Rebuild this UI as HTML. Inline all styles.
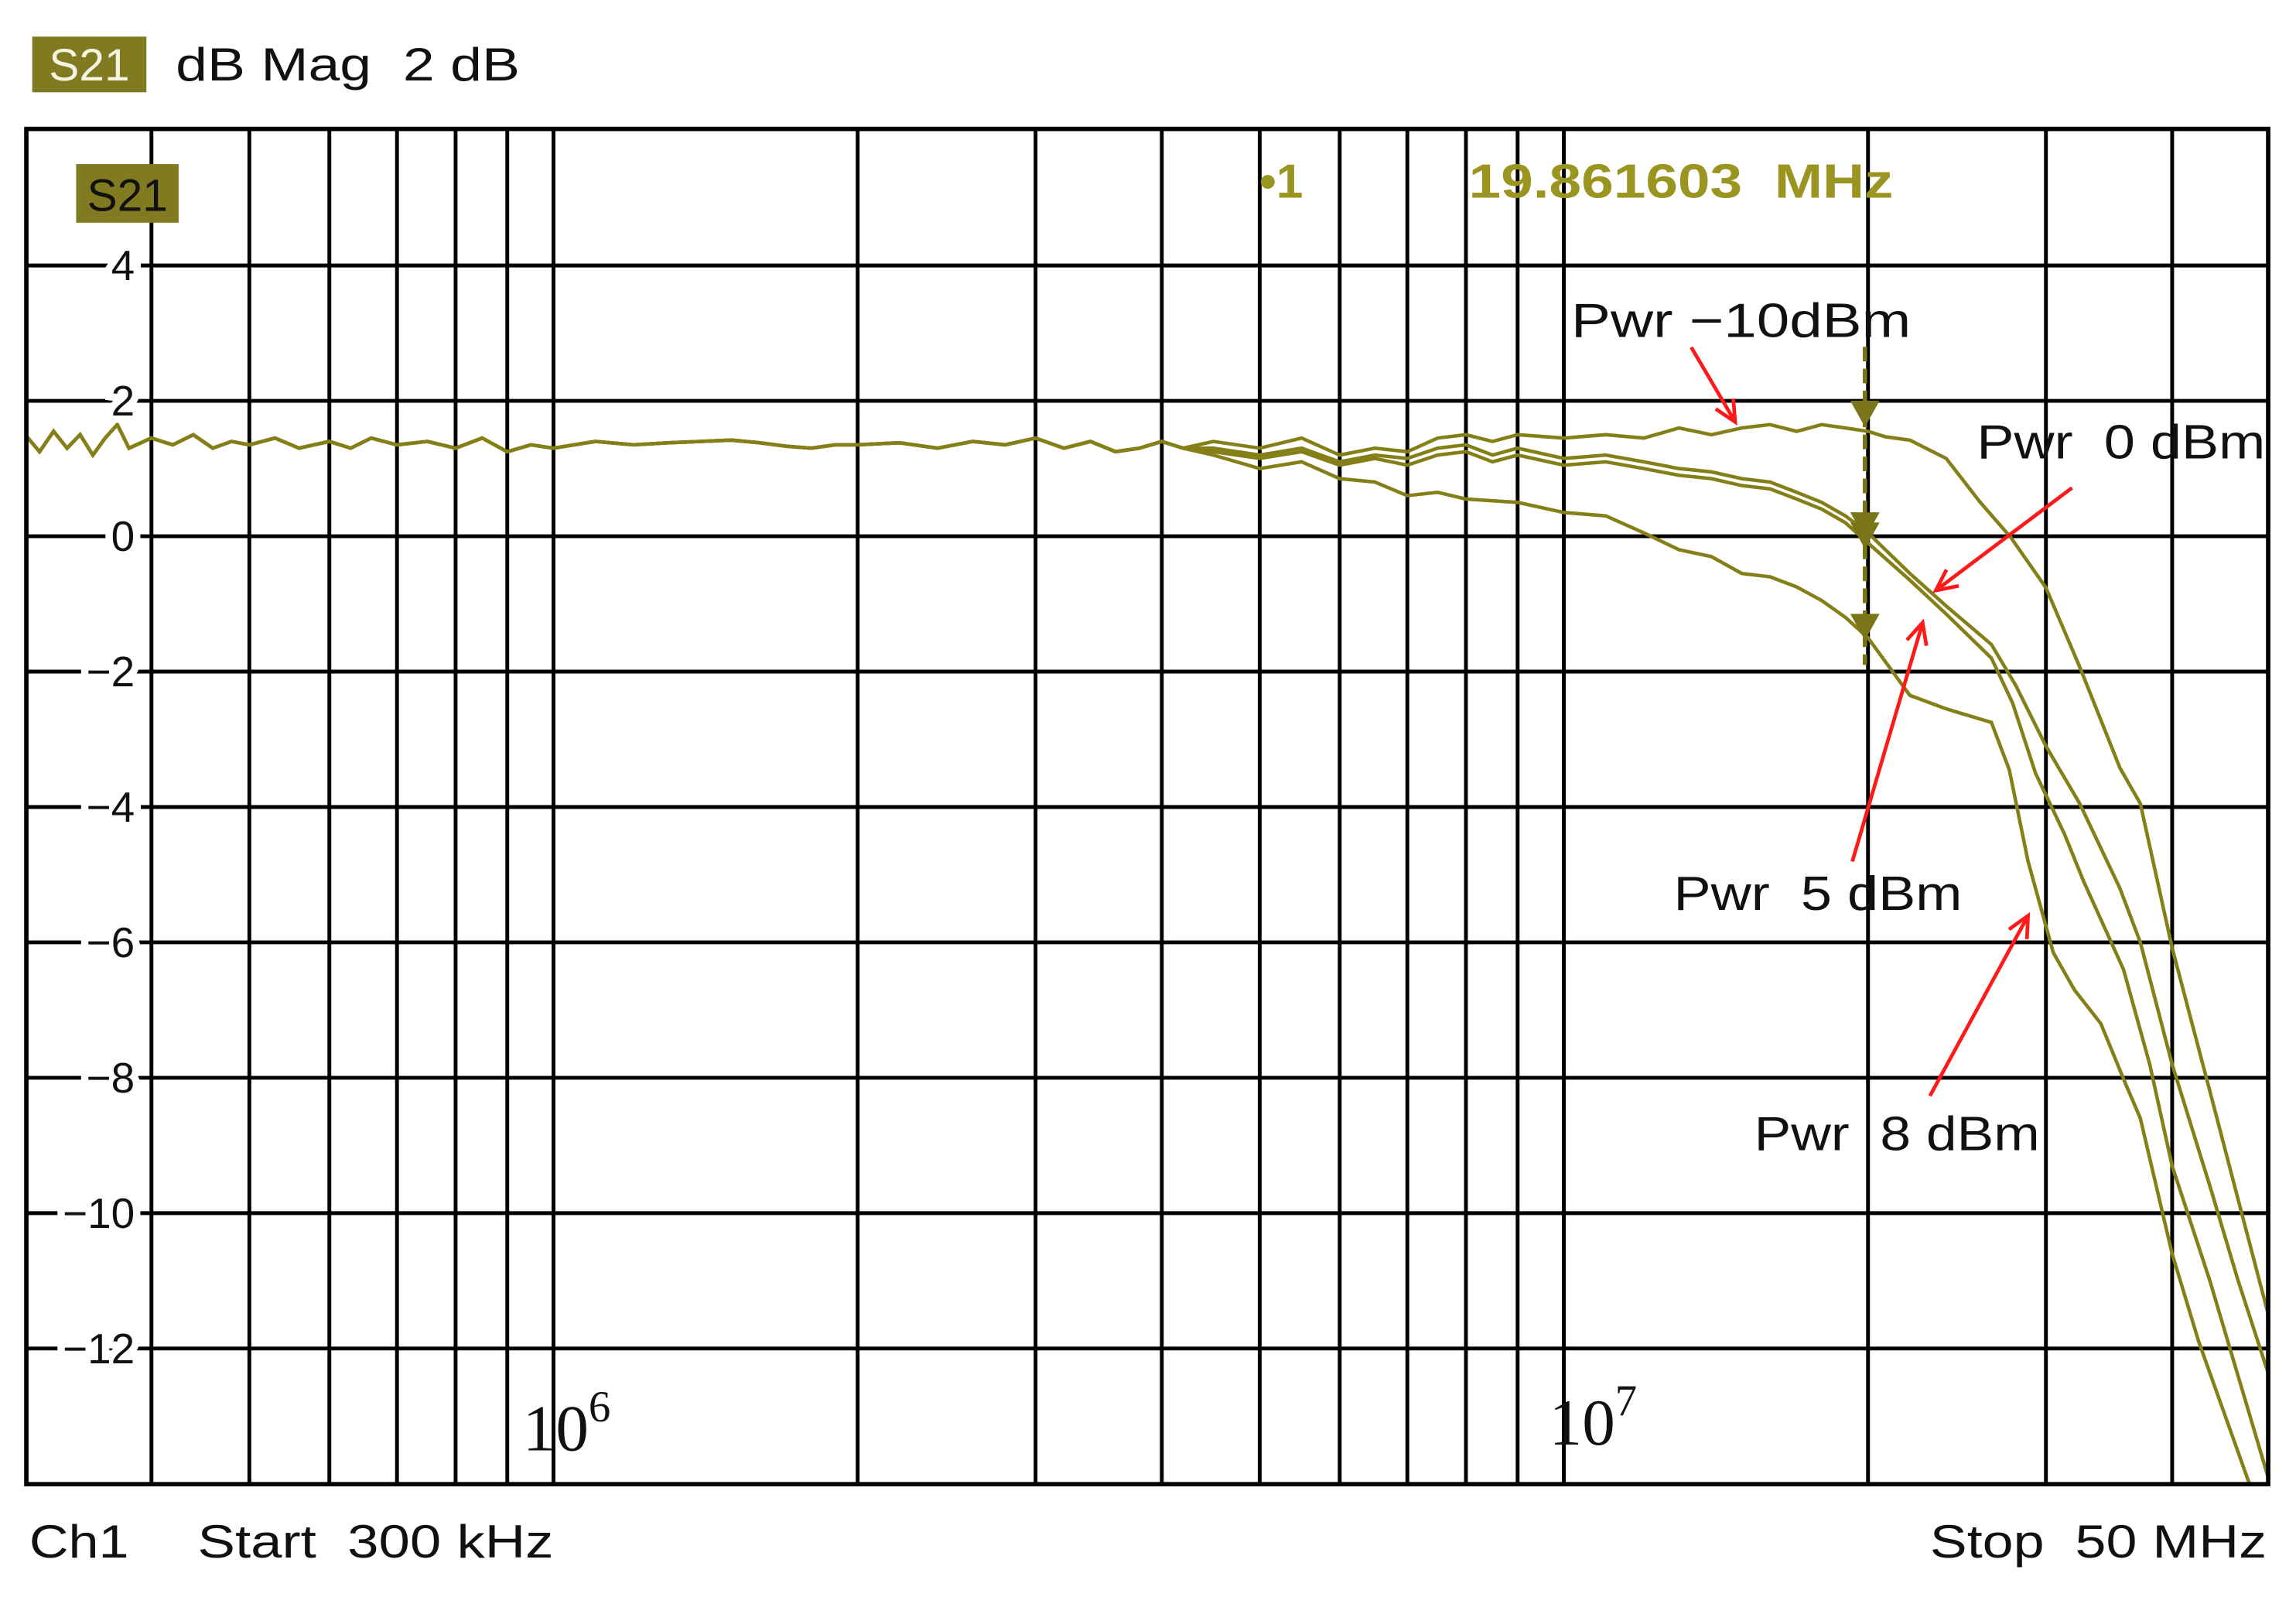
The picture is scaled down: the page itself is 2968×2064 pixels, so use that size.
<!DOCTYPE html>
<html><head><meta charset="utf-8"><style>
html,body{margin:0;padding:0;background:#fff;}
svg{display:block;}
text{white-space:pre;}
</style></head><body>
<svg id="chart" width="2968" height="2064" viewBox="0 0 1568 1090" preserveAspectRatio="none" xmlns="http://www.w3.org/2000/svg" font-family="Liberation Sans, Arial, sans-serif">
<rect x="0" y="0" width="1568" height="1090" fill="#fff"/>
<g>
  <rect x="22" y="25" width="78" height="38" fill="#807a20"/>
  <text x="61" y="55" font-size="31" fill="#f4f4e0" text-anchor="middle">S21</text>
  <text x="120" y="55" font-size="32" fill="#111" textLength="235" lengthAdjust="spacingAndGlyphs">dB Mag  2 dB</text>
</g>
<g id="grid"></g>
<g id="traces"></g>
<g id="ylabels"></g>
<rect x="18" y="88" width="1531" height="925" fill="none" stroke="#000" stroke-width="3"/>
<rect x="52" y="112" width="70" height="40" fill="#807a20"/>
<text x="87" y="144" font-size="31" fill="#111" text-anchor="middle">S21</text>
<text x="860" y="135" font-size="33" font-weight="bold" fill="#9a9420">•1</text>
<text x="1003" y="135" font-size="33" font-weight="bold" fill="#9a9420" textLength="290" lengthAdjust="spacingAndGlyphs">19.861603  MHz</text>
<g font-family="Liberation Serif, serif" fill="#111">
  <text x="357" y="990" font-size="45">10<tspan font-size="30" dy="-20">6</tspan></text>
  <text x="1058" y="986" font-size="45">10<tspan font-size="30" dy="-20">7</tspan></text>
</g>
<g font-size="32" fill="#111">
  <text x="20" y="1063" textLength="68" lengthAdjust="spacingAndGlyphs">Ch1</text>
  <text x="135" y="1063" textLength="243" lengthAdjust="spacingAndGlyphs">Start  300 kHz</text>
  <text x="1318" y="1063" textLength="230" lengthAdjust="spacingAndGlyphs">Stop  50 MHz</text>
</g>
<g id="annot" font-size="33" fill="#111"></g>
</svg>
<script>
// ---- data (frequency MHz, magnitude dB) ----
const commonF = [0.3,0.31,0.32,0.33,0.34,0.35,0.36,0.37,0.38,0.4,0.42,0.44,0.46,0.48,0.5,0.53,0.56,0.6,0.63,0.66,0.7,0.75,0.8,0.85,0.9,0.95,1.0,1.1,1.2,1.3,1.4,1.5,1.6,1.7,1.8,1.9,2.0,2.2,2.4,2.6,2.8,3.0,3.2,3.4,3.6,3.8,4.0,4.2];
const commonDb = [1.5,1.25,1.55,1.3,1.5,1.2,1.45,1.65,1.3,1.45,1.35,1.5,1.3,1.4,1.35,1.45,1.3,1.4,1.3,1.45,1.35,1.4,1.3,1.45,1.25,1.35,1.3,1.4,1.35,1.38,1.4,1.42,1.38,1.33,1.3,1.35,1.35,1.38,1.3,1.4,1.35,1.45,1.3,1.4,1.25,1.3,1.4,1.3];
const tailFm10 = [4.5,5,5.5,6,6.5,7,7.5,8,8.5,9,10,11,12,13,14,15,16,17,18,19,20,20.8,22,23.9,25.8,27.7,30,32.4,35.5,37.2,40,43.6,46.5,50];
const tailDbm10 = [1.4,1.3,1.45,1.2,1.3,1.25,1.45,1.5,1.4,1.5,1.45,1.5,1.45,1.6,1.5,1.6,1.65,1.55,1.65,1.6,1.55,1.47,1.42,1.15,0.51,-0.02,-0.76,-1.93,-3.42,-3.95,-6.08,-8.2,-9.8,-11.6];
const tailF0 = [4.5,5,5.5,6,6.5,7,7.5,8,8.5,9,10,11,12,13,14,15,16,17,18,19,20,22,23.9,26.5,28,30,32.4,35.5,37.2,40,43.6,46.5,50];
const tailDb0 = [1.3,1.2,1.3,1.1,1.2,1.15,1.3,1.35,1.2,1.3,1.15,1.2,1.1,1.0,0.95,0.85,0.8,0.65,0.5,0.3,0.05,-0.55,-1.03,-1.6,-2.2,-3.1,-3.95,-5.2,-6.0,-7.8,-9.6,-11.0,-12.45];
const tailF5 = [4.5,5,5.5,6,6.5,7,7.5,8,8.5,9,10,11,12,13,14,15,16,17,18,19,20,22,23.9,26.5,27.8,29.3,31.3,32.7,35.8,38,40,43.6,50];
const tailDb5 = [1.25,1.15,1.25,1.05,1.15,1.05,1.2,1.25,1.1,1.2,1.05,1.1,1.0,0.9,0.85,0.75,0.7,0.55,0.4,0.2,-0.1,-0.65,-1.15,-1.8,-2.46,-3.5,-4.4,-5.1,-6.4,-7.8,-9.3,-11.0,-14.0];
const tailF8 = [4.5,5,5.5,6,6.5,7,7.5,8,9,10,11,12,13,14,15,16,17,18,19,20,22,23.9,26.5,27.6,28.8,30.5,32,34,36,37.2,40,42.5,47.7];
const tailDb8 = [1.2,1.0,1.1,0.85,0.8,0.6,0.65,0.55,0.5,0.35,0.3,0.05,-0.2,-0.3,-0.55,-0.6,-0.75,-0.95,-1.2,-1.5,-2.35,-2.55,-2.75,-3.45,-4.8,-6.15,-6.7,-7.2,-8.1,-8.6,-10.6,-11.9,-14.0];
const markerDb = [1.7,0.05,-0.1,-1.45];
const markerFreq = 19.86;
const yTicks = [4,2,0,-2,-4,-6,-8,-10,-12];
const yTickLabels = ["4","2","0","\u22122","\u22124","\u22126","\u22128","\u221210","\u221212"];
const gridFreqs = [0.4,0.5,0.6,0.7,0.8,0.9,1,2,3,4,5,6,7,8,9,10,20,30,40];
const gridDb = [4,2,0,-2,-4,-6,-8,-10,-12];

// ---- axes ----
const X0=18,X1=1549,Y0=88,Y1=1013;
function X(f){return 1068+690*Math.log10(f/10);}
function Y(db){return 366-46.2*db;}
const NS="http://www.w3.org/2000/svg";
function mk(tag,attrs,parent){const e=document.createElementNS(NS,tag);for(const k in attrs)e.setAttribute(k,attrs[k]);parent.appendChild(e);return e;}

const grid=document.getElementById('grid');
gridFreqs.forEach(f=>{
  const l=mk('line',{x1:X(f),x2:X(f),y1:Y0,y2:Y1,stroke:'#000','stroke-width':2.6},grid);
  
  
});
gridDb.forEach(d=>{
  const l=mk('line',{x1:X0,x2:X1,y1:Y(d),y2:Y(d),stroke:'#000','stroke-width':2.6},grid);
  
  
});

const yl=document.getElementById('ylabels');
yTicks.forEach((d,i)=>{
  const t=mk('text',{x:92,y:Y(d)+10,'font-size':29,'text-anchor':'end',fill:'#111',stroke:'#fff','stroke-width':10,'paint-order':'stroke'},yl);
  t.textContent=yTickLabels[i];
  
  
});

// ---- traces ----
const tr=document.getElementById('traces');
mk('clipPath',{id:'pc'},tr);
mk('rect',{x:X0,y:Y0,width:X1-X0,height:Y1-Y0},tr.lastChild);
const series=[["trace-pwr-minus10",tailFm10,tailDbm10],["trace-pwr-0",tailF0,tailDb0],["trace-pwr-5",tailF5,tailDb5],["trace-pwr-8",tailF8,tailDb8]];
series.forEach(s=>{
  const F=commonF.concat(s[1]),D=commonDb.concat(s[2]);
  let d='';
  F.forEach((f,i)=>{d+=(i?'L':'M')+X(f).toFixed(1)+' '+Y(D[i]).toFixed(1);});
  const p=mk('path',{d:d,fill:'none',stroke:'#857f18','stroke-width':2.4,'clip-path':'url(#pc)'},tr);
  
  
});
// marker line
const mx=X(markerFreq);
const ml=mk('line',{x1:mx,x2:mx,y1:Y(2.8),y2:Y(-1.9),stroke:'#7a7518','stroke-width':3,'stroke-dasharray':'10 5'},tr);


markerDb.forEach(v=>{
  const y=Y(v);
  const m=mk('polygon',{points:`${mx-10},${y-14} ${mx+10},${y-14} ${mx},${y+4}`,fill:'#7a7518'},tr);
  
  
});

// ---- annotations ----
const an=document.getElementById('annot');
const notes=[["label-pwr-minus10","Pwr \u221210dBm",1073,230,232,1155,237,1185,288],["label-pwr-0","Pwr  0 dBm",1350,313,197,1415,333,1322,403],["label-pwr-5","Pwr  5 dBm",1143,621,197,1265,588,1313,425],["label-pwr-8","Pwr  8 dBm",1198,785,195,1318,748,1385,625]];
notes.forEach(n=>{
  const t=mk('text',{x:n[2],y:n[3],textLength:n[4],lengthAdjust:'spacingAndGlyphs'},an);
  t.textContent=n[1];
  
  
  const [x1,y1,x2,y2]=[n[5],n[6],n[7],n[8]];
  const a=Math.atan2(y2-y1,x2-x1),L=16,w=0.45;
  const g=mk('g',{stroke:'#ff1a1a','stroke-width':2.5,fill:'none'},an);
  
  
  mk('line',{x1:x1,y1:y1,x2:x2,y2:y2},g);
  mk('polyline',{points:`${x2-L*Math.cos(a-w)},${y2-L*Math.sin(a-w)} ${x2},${y2} ${x2-L*Math.cos(a+w)},${y2-L*Math.sin(a+w)}`},g);
});
</script>
</body></html>
